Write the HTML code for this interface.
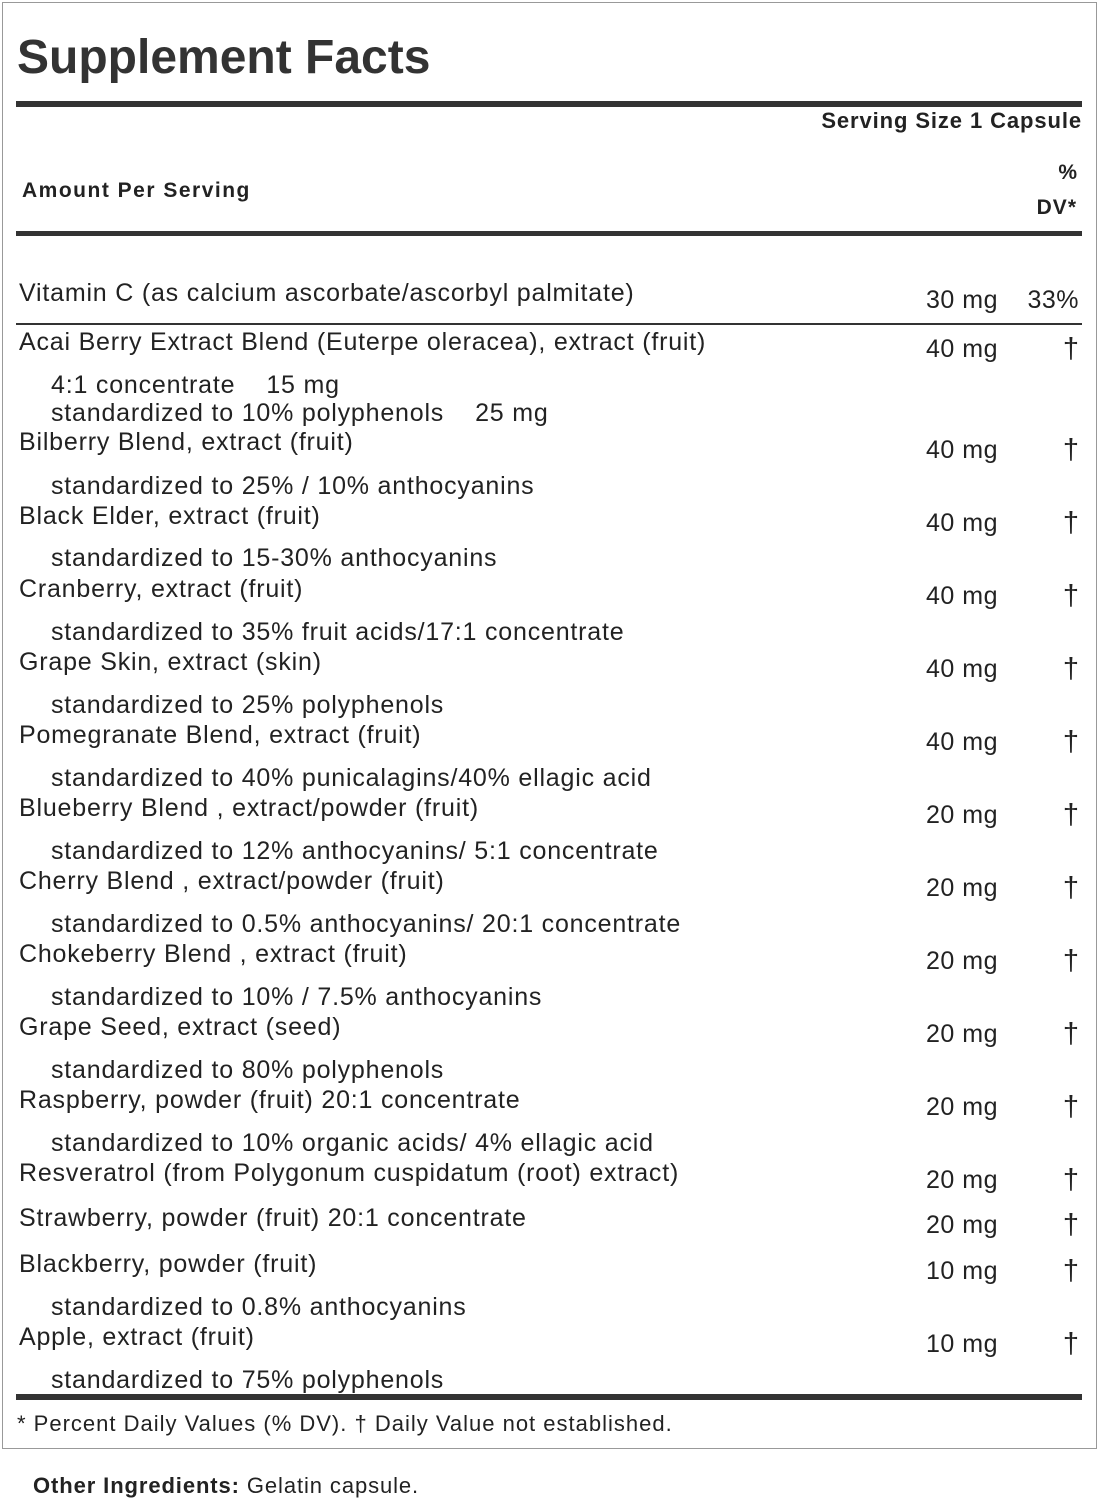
<!DOCTYPE html>
<html><head><meta charset="utf-8"><style>
body{margin:0;width:1099px;height:1500px;background:#fff;position:relative;font-family:"Liberation Sans",sans-serif;color:#222;overflow:hidden}
.box{position:absolute;left:2px;top:2px;width:1093px;height:1445px;border:1px solid #999}
.t{position:absolute;white-space:nowrap;font-size:25px;line-height:30px}
.i,.n{letter-spacing:0.8px}
.i{left:51px}.n{left:19px}
.a{left:880px;width:118px;text-align:right;letter-spacing:0.5px}
.d{left:1058px;width:26px;text-align:center;font-size:29px}
.bar{position:absolute;left:16px;width:1066px;background:#333}
</style></head><body>
<div class="box"></div>
<div class="t" style="left:17px;top:30px;font-size:48px;line-height:56px;font-weight:bold;color:#333">Supplement Facts</div>
<div class="bar" style="top:101px;height:6px"></div>
<div class="t" style="right:17px;top:106px;font-size:22px;font-weight:bold;letter-spacing:0.9px">Serving Size 1 Capsule</div>
<div class="t" style="left:22px;top:176px;font-size:21px;font-weight:bold;letter-spacing:1.5px">Amount Per Serving</div>
<div class="t" style="right:22px;top:158px;font-size:21px;font-weight:bold">%</div>
<div class="t" style="right:22px;top:193px;font-size:21px;font-weight:bold;letter-spacing:1px">DV*</div>
<div class="bar" style="top:231px;height:5px"></div>
<div class="t n" style="top:278px">Vitamin C (as calcium ascorbate/ascorbyl palmitate)</div>
<div class="t a" style="top:285px">30 mg</div>
<div class="t" style="right:20px;top:285px;letter-spacing:0.5px">33%</div>
<div class="bar" style="top:323px;height:2px"></div>

<div class="t n" style="top:327px">Acai Berry Extract Blend (Euterpe oleracea), extract (fruit)</div><div class="t a" style="top:334px">40 mg</div><div class="t d" style="top:334px">†</div>
<div class="t i" style="top:370px">4:1 concentrate &nbsp;&nbsp;&nbsp;15 mg</div>
<div class="t i" style="top:398px">standardized to 10% polyphenols &nbsp;&nbsp;&nbsp;25 mg</div>
<div class="t n" style="top:427px">Bilberry Blend, extract (fruit)</div><div class="t a" style="top:435px">40 mg</div><div class="t d" style="top:435px">†</div>
<div class="t i" style="top:471px">standardized to 25% / 10% anthocyanins</div>
<div class="t n" style="top:501px">Black Elder, extract (fruit)</div><div class="t a" style="top:508px">40 mg</div><div class="t d" style="top:508px">†</div>
<div class="t i" style="top:543px">standardized to 15-30% anthocyanins</div>
<div class="t n" style="top:574px">Cranberry, extract (fruit)</div><div class="t a" style="top:581px">40 mg</div><div class="t d" style="top:581px">†</div>
<div class="t i" style="top:617px">standardized to 35% fruit acids/17:1 concentrate</div>
<div class="t n" style="top:647px">Grape Skin, extract (skin)</div><div class="t a" style="top:654px">40 mg</div><div class="t d" style="top:654px">†</div>
<div class="t i" style="top:690px">standardized to 25% polyphenols</div>
<div class="t n" style="top:720px">Pomegranate Blend, extract (fruit)</div><div class="t a" style="top:727px">40 mg</div><div class="t d" style="top:727px">†</div>
<div class="t i" style="top:763px">standardized to 40% punicalagins/40% ellagic acid</div>
<div class="t n" style="top:793px">Blueberry Blend , extract/powder (fruit)</div><div class="t a" style="top:800px">20 mg</div><div class="t d" style="top:800px">†</div>
<div class="t i" style="top:836px">standardized to 12% anthocyanins/ 5:1 concentrate</div>
<div class="t n" style="top:866px">Cherry Blend , extract/powder (fruit)</div><div class="t a" style="top:873px">20 mg</div><div class="t d" style="top:873px">†</div>
<div class="t i" style="top:909px">standardized to 0.5% anthocyanins/ 20:1 concentrate</div>
<div class="t n" style="top:939px">Chokeberry Blend , extract (fruit)</div><div class="t a" style="top:946px">20 mg</div><div class="t d" style="top:946px">†</div>
<div class="t i" style="top:982px">standardized to 10% / 7.5% anthocyanins</div>
<div class="t n" style="top:1012px">Grape Seed, extract (seed)</div><div class="t a" style="top:1019px">20 mg</div><div class="t d" style="top:1019px">†</div>
<div class="t i" style="top:1055px">standardized to 80% polyphenols</div>
<div class="t n" style="top:1085px">Raspberry, powder (fruit) 20:1 concentrate</div><div class="t a" style="top:1092px">20 mg</div><div class="t d" style="top:1092px">†</div>
<div class="t i" style="top:1128px">standardized to 10% organic acids/ 4% ellagic acid</div>
<div class="t n" style="top:1158px">Resveratrol (from Polygonum cuspidatum (root) extract)</div><div class="t a" style="top:1165px">20 mg</div><div class="t d" style="top:1165px">†</div>
<div class="t n" style="top:1203px">Strawberry, powder (fruit) 20:1 concentrate</div><div class="t a" style="top:1210px">20 mg</div><div class="t d" style="top:1210px">†</div>
<div class="t n" style="top:1249px">Blackberry, powder (fruit)</div><div class="t a" style="top:1256px">10 mg</div><div class="t d" style="top:1256px">†</div>
<div class="t i" style="top:1292px">standardized to 0.8% anthocyanins</div>
<div class="t n" style="top:1322px">Apple, extract (fruit)</div><div class="t a" style="top:1329px">10 mg</div><div class="t d" style="top:1329px">†</div>
<div class="t i" style="top:1365px">standardized to 75% polyphenols</div>
<div class="bar" style="top:1394px;height:6px"></div>
<div class="t" style="left:17px;top:1409px;font-size:22px;letter-spacing:1px">* Percent Daily Values (% DV). † Daily Value not established.</div>
<div class="t" style="left:33px;top:1471px;font-size:22px;letter-spacing:0.9px"><b>Other Ingredients:</b> Gelatin capsule.</div>
</body></html>
